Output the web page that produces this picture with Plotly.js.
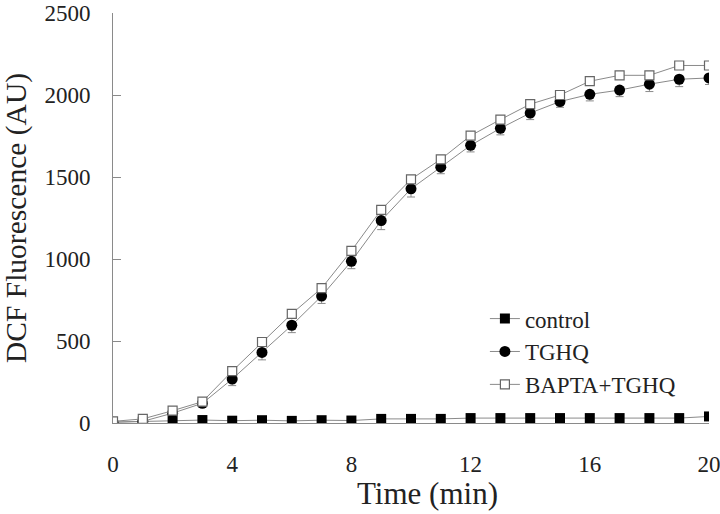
<!DOCTYPE html>
<html>
<head>
<meta charset="utf-8">
<script src="https://cdn.plot.ly/plotly-3.0.1.min.js"></script>
<style>html,body{margin:0;padding:0;background:#fff;}#chart{width:720px;height:514px;}</style>
</head>
<body>
<div id="chart"></div>
<script>
const time = [0,1,2,3,4,5,6,7,8,9,10,11,12,13,14,15,16,17,18,19,20];
const control = [5,8,15,18,14,17,13,17,15,25,25,25,30,30,30,30,30,30,30,30,40];
const controlErr = [3,3,4,4,4,4,4,4,4,5,5,5,5,5,5,5,5,5,5,5,6];
const tghq = [5,10,60,120,268,430,596,774,986,1234,1428,1560,1693,1797,1890,1960,2004,2030,2066,2096,2104];
const tghqErr = [5,8,20,25,40,45,45,45,45,55,50,40,40,40,40,35,40,40,45,45,40];
const bapta = [10,25,75,130,316,494,666,822,1050,1300,1486,1608,1752,1850,1944,2000,2084,2120,2120,2180,2180];
const baptaErr = [6,8,20,15,20,20,25,20,20,20,20,20,20,20,20,20,20,20,20,20,20];
const tickVals = [0,4,8,12,16,20];
const xTitle = 'Time (min)';
const yTitle = 'DCF Fluorescence (AU)';

const lineCol = '#8a8a8a';
const serif = "'Liberation Serif', 'DejaVu Serif', serif";

const traces = [
  {x: time, y: control, name: 'control', mode: 'lines+markers',
   line: {color: lineCol, width: 1},
   marker: {symbol: 'square', size: 10, color: '#000'},
   error_y: {type: 'data', array: controlErr, arrayminus: controlErr, symmetric: false, color: lineCol, thickness: 1, width: 3}},
  {x: time, y: tghq, name: 'TGHQ', mode: 'lines+markers',
   line: {color: lineCol, width: 1},
   marker: {symbol: 'circle', size: 11, color: '#000'},
   error_y: {type: 'data', array: tghqErr.map(()=>0), arrayminus: tghqErr, symmetric: false, color: lineCol, thickness: 1, width: 4}},
  {x: time, y: bapta, name: 'BAPTA+TGHQ', mode: 'lines+markers',
   line: {color: lineCol, width: 1},
   marker: {symbol: 'square', size: 9, color: '#fff', line: {width: 1.2, color: '#666'}},
   error_y: {type: 'data', array: baptaErr, arrayminus: baptaErr.map(()=>0), symmetric: false, color: lineCol, thickness: 1, width: 4}}
];

const layout = {
  width: 720, height: 514,
  margin: {l: 113, r: 11, t: 13, b: 91},
  paper_bgcolor: '#fff', plot_bgcolor: '#fff',
  font: {family: serif, color: '#222', size: 22},
  showlegend: true,
  legend: {x: 0.624, y: 0.307, xanchor: 'left', yanchor: 'top', bgcolor: 'rgba(0,0,0,0)',
           font: {family: serif, size: 23, color: '#222'}, tracegroupgap: 0, itemwidth: 30},
  xaxis: {
    range: [0, 20], tickvals: tickVals, ticktext: tickVals.map(String),
    showgrid: false, zeroline: false, showline: true, linecolor: lineCol, linewidth: 1,
    ticks: '', ticklabelstandoff: 20, ticklabeloverflow: 'allow', automargin: false,
    tickfont: {family: serif, size: 23, color: '#222'}
  },
  yaxis: {
    range: [0, 2500], tickvals: [0,500,1000,1500,2000,2500],
    showgrid: false, zeroline: false, showline: true, linecolor: lineCol, linewidth: 1,
    ticks: 'inside', ticklen: 8, tickcolor: lineCol, ticklabelstandoff: 17, ticklabeloverflow: 'allow', automargin: false,
    tickfont: {family: serif, size: 23, color: '#222'},
    title: {text: yTitle, font: {family: serif, size: 29.5, color: '#222'}, standoff: 12}
  },
  annotations: [
    {text: xTitle, xref: 'paper', yref: 'paper', x: 0.5285, y: -0.173, xanchor: 'center', yanchor: 'middle',
     showarrow: false, borderpad: 0, font: {family: serif, size: 31, color: '#222'}}
  ]
};

Plotly.newPlot('chart', traces, layout, {displayModeBar: false, staticPlot: true});
</script>
</body>
</html>
